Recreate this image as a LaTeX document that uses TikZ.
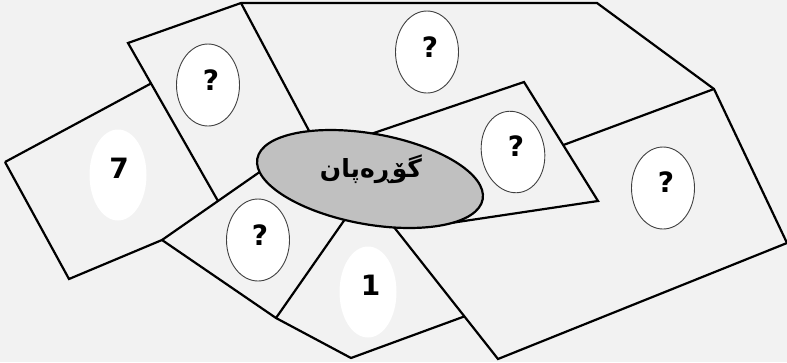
\documentclass[tikz,border=0pt]{standalone}
\usepackage{fontspec}
\setmainfont{DejaVu Sans}
\newfontfamily\arabicfont[Script=Arabic]{DejaVu Sans}
\TeXXeTstate=1
\usetikzlibrary{calc,shapes.geometric}
\definecolor{bgc}{HTML}{F2F2F2}
\definecolor{ctrfill}{HTML}{C0C0C0}
\definecolor{qedge}{HTML}{404040}
\begin{document}
\begin{tikzpicture}[x=1pt,y=-1pt,
  border/.style={line width=2.2pt, black},
  qell/.style={ellipse, fill=white, draw=qedge, line width=0.9pt, minimum width=63pt, minimum height=82pt, inner sep=0pt},
  nell/.style={ellipse, fill=white, draw=none, minimum width=57pt, minimum height=91pt, inner sep=0pt},
  bigell/.style={ellipse, fill=ctrfill, draw=black, line width=2.2pt, minimum width=229pt, minimum height=90.6pt, inner sep=0pt},
  lbl/.style={font=\fontsize{28}{31}\selectfont\bfseries, inner sep=0pt}]
\fill[bgc] (0,0) rectangle (787,362);
\path[use as bounding box] (0,0) rectangle (787,362);
% corner points
\coordinate (tl1) at (128,43);
\coordinate (tl2) at (241,3);
\coordinate (tl3) at (218,201);
\coordinate (tr1) at (597,3);
\coordinate (tr2) at (714,89);
\coordinate (br1) at (787,243);
\coordinate (br2) at (498,359);
\coordinate (br3) at (386,217);
\coordinate (tlr) at (315,142);
\coordinate (s1) at (5,162);
\coordinate (s2) at ($(tl1)!0.256!(tl3)$);
\coordinate (s3) at (69,279);
\coordinate (d3) at (162,240);
\coordinate (d4) at (276,318);
\coordinate (d5) at (351,358);
\coordinate (d6) at ($(br2)!0.30!(br3)$);
\coordinate (e1) at ($(d3)!1.9!(tl3)$);
\coordinate (f1) at (350,212);
\coordinate (g0) at (365,136);
\coordinate (g1) at (524,82);
\coordinate (g2) at (598,201);
\coordinate (g3) at (442,224.3);
\coordinate (h1) at ($(g1)!0.53!(g2)$);
% outlines
\draw[border] (tl3) -- (tl1) -- (tl2) -- (tr1) -- (tr2) -- (br1) -- (br2) -- (br3);
\draw[border] (tl2) -- (tlr);
\draw[border] (s1) -- (s2);
\draw[border] (s1) -- (s3) -- (d3) -- (d4) -- (d5) -- (d6);
\draw[border] (d3) -- (e1);
\draw[border] (d4) -- (f1);
\draw[border] (g0) -- (g1) -- (g2) -- (g3);
\draw[border] (tr2) -- (h1);
% centre
\node[bigell, rotate=-10.2] (ctr) at (370,179) {};
\node[inner sep=0pt, font=\fontsize{25}{29}\selectfont] (ctrtext) at (371,169) {\arabicfont\bfseries\beginR گۆڕەپان\endR};
% small ellipses
\node[qell] (q1) at (208,85) {};
\node[lbl] (q1t) at (211,80) {?};
\node[qell] (q2) at (427,52) {};
\node[lbl] (q2t) at (430,47) {?};
\node[qell, rotate=10] (q3) at (513,152) {};
\node[lbl] (q3t) at (516,146) {?};
\node[qell] (q4) at (663,188) {};
\node[lbl] (q4t) at (666,182) {?};
\node[qell] (q5) at (258,240) {};
\node[lbl] (q5t) at (260,235) {?};
\node[nell] (n7) at (118,175) {};
\node[lbl] (n7t) at (119,168.5) {7};
\node[nell] (n1) at (368,292) {};
\node[lbl] (n1t) at (370.5,285) {1};
\end{tikzpicture}
\end{document}
